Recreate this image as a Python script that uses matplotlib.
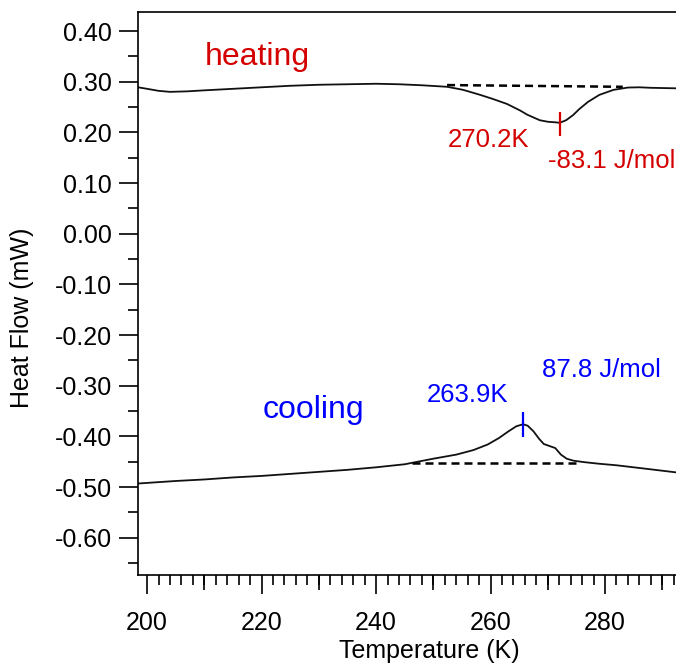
import matplotlib
matplotlib.use("Agg")
import matplotlib.pyplot as plt
from matplotlib import ticker

plt.rcParams["font.family"] = ["Liberation Sans", "DejaVu Sans"]
plt.rcParams["axes.unicode_minus"] = False

# heating run (endothermic dip)
heat_T = [198.4, 200.0, 202.0, 204.0, 207.0, 210.0, 215.0, 220.0, 225.0, 230.0,
          235.0, 240.0, 244.0, 248.0, 252.4, 255.2, 258.2, 260.4, 262.9, 265.2,
          266.4, 267.4, 268.6, 270.0, 271.2, 272.1, 273.2, 274.4, 275.5, 277.0,
          279.0, 281.5, 284.0, 286.0, 288.0, 292.4]
heat_HF = [0.289, 0.286, 0.282, 0.280, 0.281, 0.283, 0.286, 0.289, 0.292, 0.294,
           0.295, 0.296, 0.295, 0.293, 0.290, 0.284, 0.274, 0.266, 0.256, 0.243,
           0.235, 0.230, 0.224, 0.221, 0.220, 0.219, 0.224, 0.234, 0.246, 0.260,
           0.274, 0.284, 0.2885, 0.289, 0.288, 0.287]

# cooling run (exothermic peak)
cool_T = [198.4, 205.0, 210.0, 215.0, 220.0, 225.0, 230.0, 235.0, 240.0, 245.0,
          250.0, 254.0, 257.0, 259.5, 261.5, 263.0, 264.5, 265.7, 266.5, 267.5,
          268.5, 269.3, 270.3, 271.3, 272.3, 273.3, 274.5, 276.5, 279.0, 282.0,
          285.0, 288.0, 292.4]
cool_HF = [-0.493, -0.488, -0.485, -0.481, -0.478, -0.474, -0.470, -0.466, -0.461, -0.455,
           -0.444, -0.436, -0.427, -0.416, -0.403, -0.391, -0.380, -0.376, -0.379, -0.390,
           -0.405, -0.415, -0.419, -0.423, -0.436, -0.444, -0.448, -0.451, -0.454, -0.457,
           -0.461, -0.465, -0.471]

# integration baselines
heat_base_T = [252.4, 283.1]
heat_base_HF = [0.2934, 0.290]
cool_base_T = [246.3, 275.1]
cool_base_HF = [-0.453, -0.453]

# peak markers
heat_peak = (272.1, 0.241, 0.192)
cool_peak = (265.7, -0.351, -0.402)

red = "#d40000"
blue = "#0000ff"

fig = plt.figure(figsize=(6.76, 6.66), dpi=100)
# right edge of the plot is cut by the image border (no right spine shown)
ax = fig.add_axes([0.2041, 0.1366, 1 - 0.2041, 0.8453])

ax.plot(heat_T, heat_HF, color="#111111", lw=1.3)
ax.plot(cool_T, cool_HF, color="#111111", lw=1.3)
ax.plot(heat_base_T, heat_base_HF, color="black", lw=1.8, linestyle=(0, (3.2, 2.0)))
ax.plot(cool_base_T, cool_base_HF, color="black", lw=1.8, linestyle=(0, (3.2, 2.0)))
ax.vlines(heat_peak[0], heat_peak[2], heat_peak[1], color=red, lw=1.6)
ax.vlines(cool_peak[0], cool_peak[2], cool_peak[1], color=blue, lw=1.6)

ax.text(210.1, 0.333, "heating", color=red, fontsize=23, va="baseline")
ax.text(220.1, -0.364, "cooling", color=blue, fontsize=23, va="baseline")
ax.text(252.6, 0.171, "270.2K", color=red, fontsize=18.5, va="baseline")
ax.text(270.0, 0.129, "-83.1 J/mol", color=red, fontsize=18.5, va="baseline")
ax.text(248.9, -0.333, "263.9K", color=blue, fontsize=18.5, va="baseline")
ax.text(269.0, -0.282, "87.8 J/mol", color=blue, fontsize=18.5, va="baseline")

ax.set_xlim(198.4, 292.4)
ax.set_ylim(-0.6736, 0.4375)

ax.xaxis.set_major_locator(ticker.MultipleLocator(20))
ax.xaxis.set_minor_locator(ticker.MultipleLocator(2))
ax.yaxis.set_major_locator(ticker.MultipleLocator(0.1))
ax.yaxis.set_minor_locator(ticker.MultipleLocator(0.05))
ax.yaxis.set_major_formatter(ticker.FormatStrFormatter("%.2f"))

ax.tick_params(which="major", direction="out", length=13.8, width=1.2,
               labelsize=18, top=False, right=False)
ax.tick_params(which="minor", direction="out", length=7, width=1.2,
               top=False, right=False)
ax.tick_params(axis="x", which="major", pad=12)
ax.tick_params(axis="y", which="major", pad=5)

# medium ticks every 10 K
sec = ax.secondary_xaxis("bottom")
sec.xaxis.set_major_locator(ticker.MultipleLocator(20, offset=10))
sec.tick_params(direction="out", length=10.5, width=1.2, labelbottom=False)
sec.xaxis.set_minor_locator(ticker.NullLocator())
for s in sec.spines.values():
    s.set_visible(False)

ax.spines["right"].set_visible(False)
for s in ["left", "bottom", "top"]:
    ax.spines[s].set_linewidth(1.2)

fig.text(429 / 676, 1 - 658 / 666, "Temperature (K)", fontsize=18,
         ha="center", va="baseline")
fig.text(22 / 676, 1 - 318 / 666, "Heat Flow (mW)", fontsize=18,
         ha="center", va="center", rotation=90)

fig.savefig("out.png", dpi=100)
